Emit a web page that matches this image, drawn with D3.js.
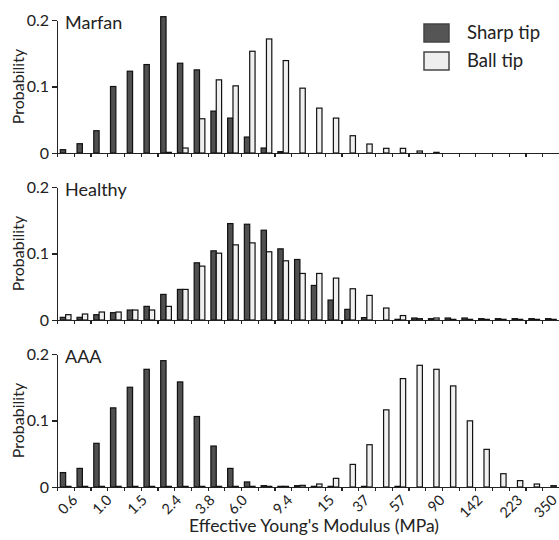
<!DOCTYPE html>
<html>
<head>
<meta charset="utf-8">
<title>Effective Young's Modulus</title>
<script src="https://d3js.org/d3.v7.min.js"></script>
<style>
body { margin: 0; background: #fff; }
svg { font-family: Lato, "Noto Sans", sans-serif; }
.axis path, .axis line { stroke: #222; stroke-width: 1.2; shape-rendering: crispEdges; }
.axis text { fill: #222; }
</style>
</head>
<body>
<script>
// 30 log-spaced bins of effective Young's modulus
const nBins = 30;
const xLabels = ["0.6", "1.0", "1.5", "2.4", "3.8", "6.0", "9.4", "15", "37", "57", "90", "142", "223", "350"];
// where each label sits, in bin units along the axis
const xLabelAt = [1.25, 3.3, 5.4, 7.45, 9.45, 11.4, 14.1, 16.6, 18.7, 20.9, 23.2, 25.45, 27.85, 29.9];

const panels = ["Marfan", "Healthy", "AAA"];
const series = ["Sharp tip", "Ball tip"];

const marfanSharp = [0.005, 0.014, 0.0335, 0.100, 0.123, 0.133, 0.205, 0.135, 0.125, 0.063,
  0.0525, 0.024, 0.0075, 0.002, 0, 0, 0, 0, 0, 0, 0, 0, 0, 0, 0, 0, 0, 0, 0, 0];
const marfanBall = [0, 0, 0, 0, 0, 0, 0.001, 0.0075, 0.0515, 0.110,
  0.101, 0.153, 0.1715, 0.139, 0.0975, 0.0675, 0.0525, 0.026, 0.0135, 0.007,
  0.007, 0.003, 0.001, 0, 0, 0, 0, 0, 0, 0];

const healthySharp = [0.004, 0.004, 0.008, 0.011, 0.015, 0.0205, 0.0385, 0.046, 0.086, 0.104,
  0.145, 0.144, 0.135, 0.107, 0.091, 0.052, 0.030, 0.016, 0.0036, 0,
  0.001, 0.003, 0.002, 0.003, 0.003, 0.002, 0.002, 0.002, 0.002, 0.002];
const healthyBall = [0.008, 0.009, 0.012, 0.012, 0.015, 0.015, 0.0205, 0.046, 0.081, 0.1005,
  0.113, 0.116, 0.1026, 0.089, 0.070, 0.070, 0.063, 0.047, 0.037, 0.018,
  0.0067, 0.002, 0.003, 0.001, 0.001, 0.001, 0.001, 0.001, 0.001, 0.001];

const aaaSharp = [0.0217, 0.028, 0.0657, 0.119, 0.150, 0.177, 0.190, 0.158, 0.106, 0.0616,
  0.028, 0.0076, 0.002, 0.001, 0.002, 0.001, 0.001, 0, 0.001, 0,
  0.001, 0, 0, 0, 0, 0, 0, 0, 0, 0];
const aaaBall = [0.001, 0.001, 0.001, 0.001, 0.001, 0.001, 0.001, 0.001, 0.001, 0.001,
  0.001, 0.001, 0.001, 0.001, 0.0025, 0.0045, 0.013, 0.034, 0.0636, 0.116,
  0.163, 0.183, 0.177, 0.152, 0.0995, 0.0566, 0.020, 0.0096, 0.0045, 0.002];

const panelData = [
  [marfanSharp, marfanBall],
  [healthySharp, healthyBall],
  [aaaSharp, aaaBall]
];

const W = 559, H = 540;
const left = 57, panelH = 133, panelTop = [20, 187, 354];
const colors = {"Sharp tip": "#505050", "Ball tip": "#f0f0f0"};

const svg = d3.select("body").append("svg")
  .attr("width", W).attr("height", H);

const x = d3.scaleLinear().domain([0, nBins]).range([left, W]);
const sub = d3.scaleBand().domain(series).range([3.3, 14]);
const y = d3.scaleLinear().domain([0, 0.2]).range([panelH, 0]);

panels.forEach(function(name, p) {
  const g = svg.append("g").attr("transform", "translate(0," + panelTop[p] + ")");

  series.forEach(function(s, j) {
    g.append("g").selectAll("rect")
      .data(panelData[p][j])
      .join("rect")
      .attr("x", (d, i) => x(i) + sub(s))
      .attr("width", sub.bandwidth())
      .attr("y", d => y(d))
      .attr("height", d => y(0) - y(d))
      .attr("fill", colors[s])
      .attr("stroke", "#111")
      .attr("stroke-width", 1.2);
  });

  // bin ticks along the baseline
  g.append("g").attr("class", "axis")
    .attr("transform", "translate(0," + panelH + ")")
    .call(d3.axisBottom(x).tickValues(d3.range(nBins + 1)).tickSize(4).tickSizeOuter(0).tickFormat(""));

  const ya = g.append("g").attr("class", "axis")
    .attr("transform", "translate(" + left + ",0)")
    .call(d3.axisLeft(y).tickValues([0, 0.1, 0.2]).tickSize(5).tickSizeOuter(0)
      .tickFormat(d => d === 0 ? "0" : d3.format(".1f")(d)));
  ya.selectAll("text").attr("font-size", 16).attr("font-family", "Lato, sans-serif").attr("x", -8);

  g.append("text")
    .attr("transform", "translate(24," + (panelH / 2) + ") rotate(-90)")
    .attr("text-anchor", "middle")
    .attr("font-size", 16)
    .attr("fill", "#222")
    .text("Probability");

  g.append("text")
    .attr("x", 65).attr("y", 9)
    .attr("font-size", 18)
    .attr("fill", "#222")
    .text(name);

  if (p === panels.length - 1) {
    const xa = g.append("g").attr("class", "axis")
      .attr("transform", "translate(0," + panelH + ")")
      .call(d3.axisBottom(x).tickValues(xLabelAt).tickSize(0)
        .tickFormat((d, i) => xLabels[i]));
    xa.select(".domain").remove();
    xa.selectAll("text")
      .attr("y", null).attr("dy", null)
      .attr("font-size", 14.5).attr("font-family", "Lato, sans-serif")
      .attr("text-anchor", "end")
      .attr("transform", "translate(0,14) rotate(-45)");
  }
});

svg.append("text")
  .attr("x", 314).attr("y", 532)
  .attr("text-anchor", "middle")
  .attr("font-size", 17.5)
  .attr("fill", "#222")
  .text("Effective Young's Modulus (MPa)");

// legend
const legend = svg.append("g").attr("transform", "translate(424,24)");
series.forEach(function(s, i) {
  legend.append("rect")
    .attr("x", 0).attr("y", i * 28)
    .attr("width", 25).attr("height", 18)
    .attr("fill", s === "Sharp tip" ? "#555" : "#eee")
    .attr("stroke", "#444").attr("stroke-width", 1.5);
  legend.append("text")
    .attr("x", 43).attr("y", i * 28 + 15)
    .attr("font-size", 18.5)
    .attr("fill", "#222")
    .text(s);
});
</script>
</body>
</html>
